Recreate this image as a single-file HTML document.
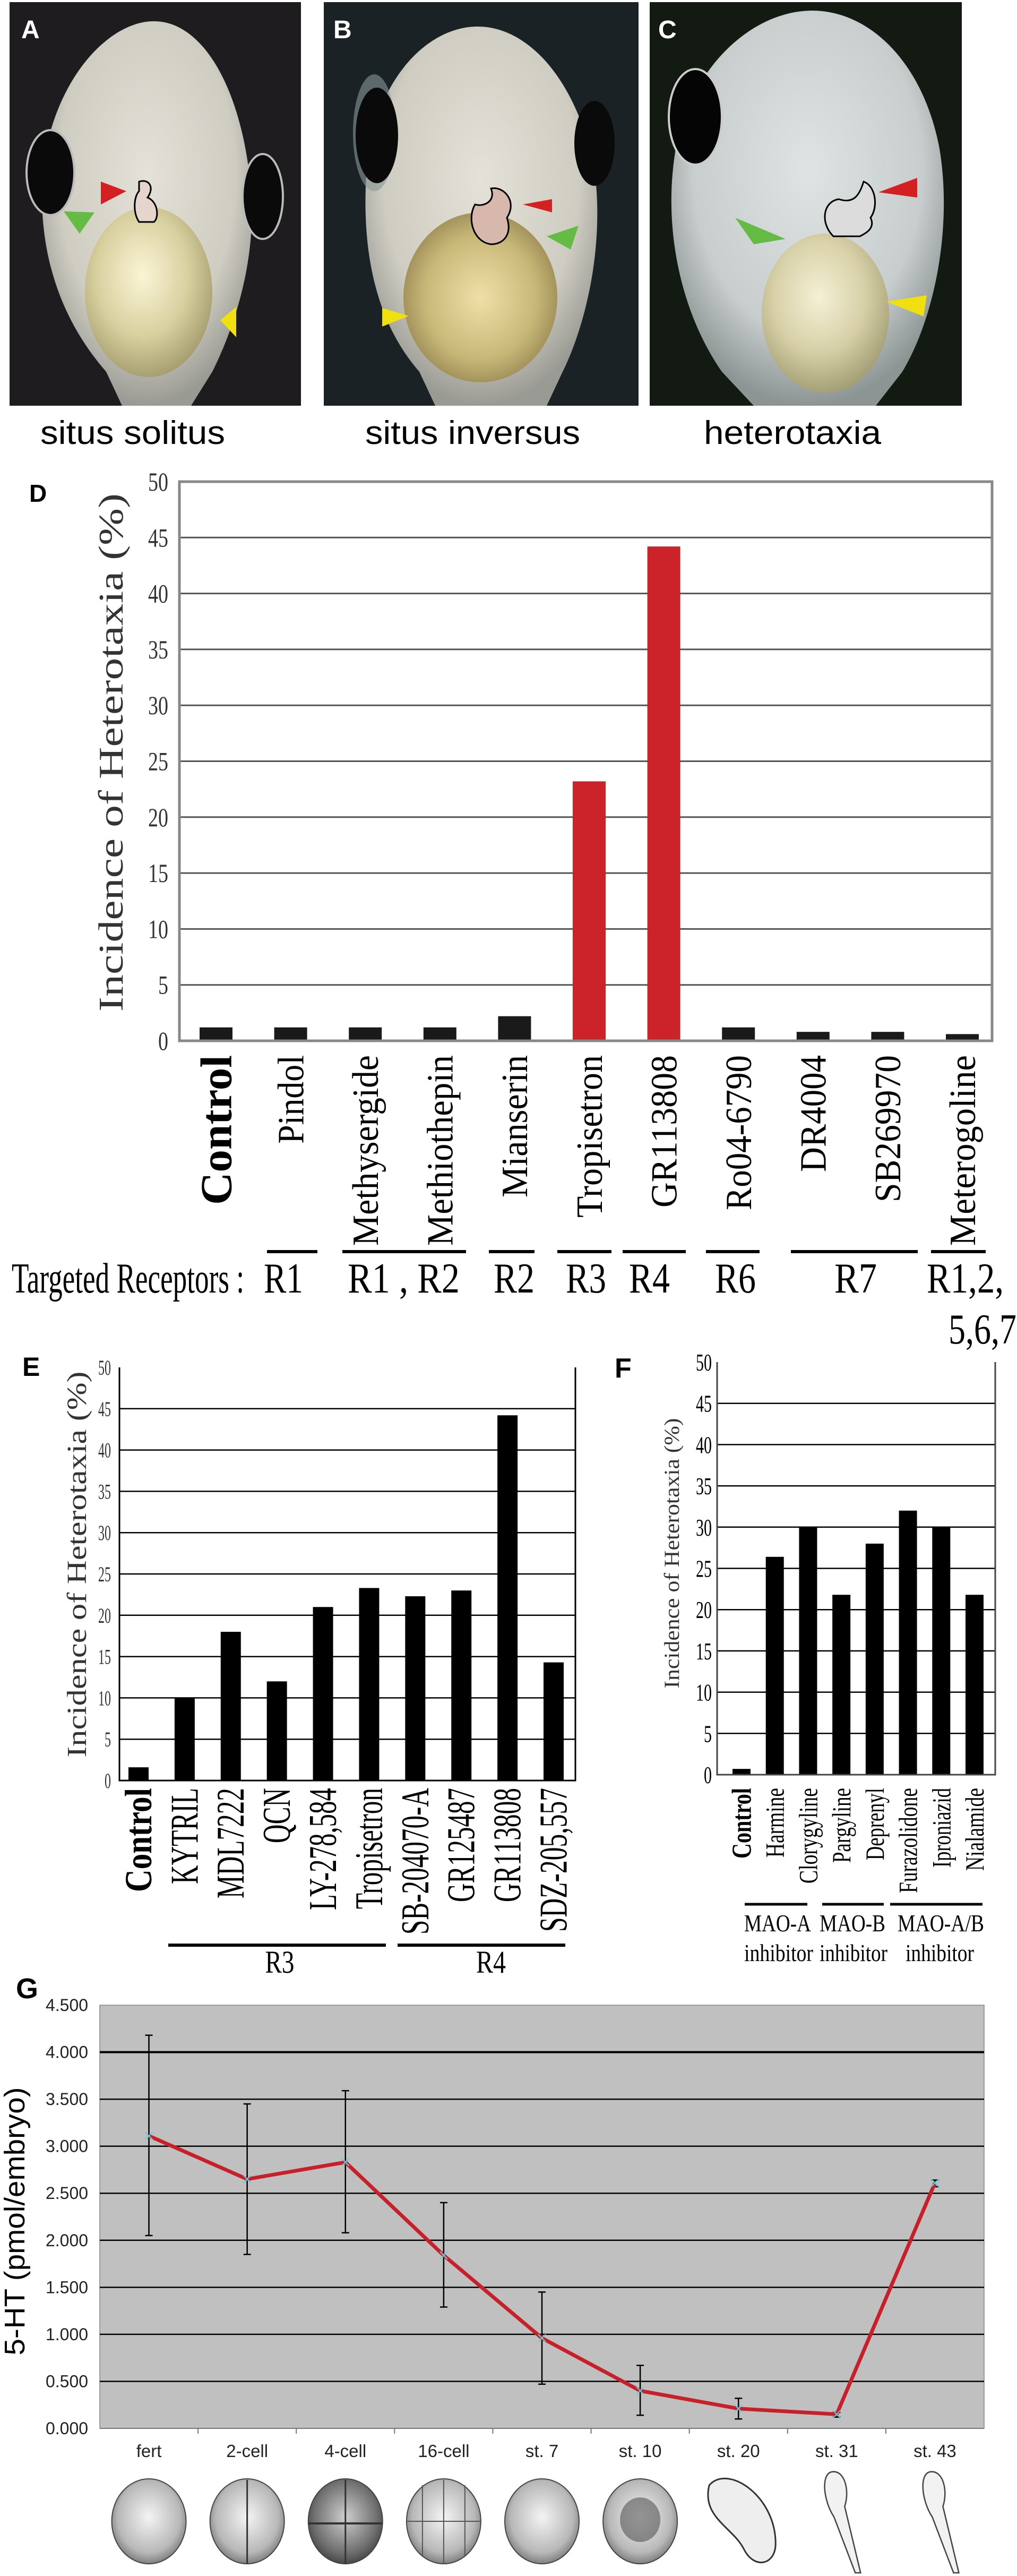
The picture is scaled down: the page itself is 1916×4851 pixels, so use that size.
<!DOCTYPE html>
<html><head><meta charset="utf-8">
<style>
html,body{margin:0;padding:0;background:#fff;}
svg{display:block;}
.serif{font-family:"Liberation Serif",serif;}
.sans{font-family:"Liberation Sans",sans-serif;}
</style></head>
<body>
<svg id="fig" width="1916" height="4851" viewBox="0 0 1916 4851" xmlns="http://www.w3.org/2000/svg">
<defs>
<radialGradient id="bodyA" cx="50%" cy="40%" r="60%"><stop offset="0" stop-color="#e4e2d8"/><stop offset="0.7" stop-color="#cfcdc2"/><stop offset="1" stop-color="#9a9a94"/></radialGradient>
<radialGradient id="bodyC" cx="50%" cy="40%" r="60%"><stop offset="0" stop-color="#dfe3e3"/><stop offset="0.7" stop-color="#c8cdcd"/><stop offset="1" stop-color="#8c9494"/></radialGradient>
<radialGradient id="yolk" cx="45%" cy="40%" r="60%"><stop offset="0" stop-color="#fbf5d6"/><stop offset="0.6" stop-color="#d9d0a0"/><stop offset="1" stop-color="#a8a070"/></radialGradient>
<radialGradient id="yolkB" cx="50%" cy="50%" r="60%"><stop offset="0" stop-color="#f0e0a8"/><stop offset="0.6" stop-color="#c8b878"/><stop offset="1" stop-color="#8a7a48"/></radialGradient>
<radialGradient id="emb" cx="50%" cy="45%" r="60%"><stop offset="0" stop-color="#f4f4f4"/><stop offset="0.7" stop-color="#b8b8b8"/><stop offset="1" stop-color="#6a6a6a"/></radialGradient>
<radialGradient id="embD" cx="50%" cy="45%" r="60%"><stop offset="0" stop-color="#cfcfcf"/><stop offset="0.7" stop-color="#707070"/><stop offset="1" stop-color="#3a3a3a"/></radialGradient>
</defs>

<!-- Photo panels -->
<g>
  <rect x="18" y="4" width="549" height="760" fill="#1e1c1e"/>
  <path d="M290 40 C380 40 450 160 470 330 C490 480 440 620 400 700 L360 764 L230 764 L200 700 C130 620 70 500 80 330 C95 160 200 40 290 40Z" fill="url(#bodyA)"/>
  <ellipse cx="95" cy="325" rx="45" ry="80" fill="#0a0a0a" stroke="#bbb" stroke-width="4"/>
  <ellipse cx="495" cy="370" rx="38" ry="80" fill="#0a0a0a" stroke="#bbb" stroke-width="4"/>
  <ellipse cx="280" cy="550" rx="120" ry="160" fill="url(#yolk)"/>
  <path d="M262 342 C280 336 292 352 278 372 C298 380 300 410 290 418 L262 418 C250 400 252 370 262 360 Z" fill="#e5d5cc" stroke="#000" stroke-width="3"/>
  <polygon points="190,342 238,360 190,385" fill="#d42020"/>
  <polygon points="120,398 178,400 150,440" fill="#66bb44"/>
  <polygon points="415,603 445,578 445,635" fill="#f0e010"/>
  <text x="40" y="72" class="sans" font-size="48" font-weight="bold" fill="#fff">A</text>
</g>
<g>
  <rect x="610" y="4" width="593" height="760" fill="#1a2226"/>
  <path d="M900 50 C1000 50 1090 160 1120 320 C1140 470 1100 620 1060 700 L1030 764 L820 764 L790 700 C720 620 680 500 690 330 C700 160 800 50 900 50Z" fill="url(#bodyA)"/>
  <ellipse cx="705" cy="250" rx="40" ry="110" fill="#8a9898" opacity="0.6"/>
  <ellipse cx="710" cy="255" rx="40" ry="90" fill="#0a0a0a"/>
  <ellipse cx="1120" cy="270" rx="38" ry="80" fill="#0a0a0a"/>
  <ellipse cx="905" cy="560" rx="145" ry="160" fill="url(#yolkB)"/>
  <path d="M925 355 C950 350 975 380 955 410 C965 440 950 460 925 460 C890 455 880 410 895 385 C910 390 935 380 925 355 Z" fill="#d8b8ac" stroke="#000" stroke-width="3"/>
  <polygon points="1040,375 985,385 1040,400" fill="#d42020"/>
  <polygon points="1090,425 1030,445 1075,470" fill="#66bb44"/>
  <polygon points="720,580 770,595 720,615" fill="#f0e010"/>
  <text x="628" y="72" class="sans" font-size="48" font-weight="bold" fill="#fff">B</text>
</g>
<g>
  <rect x="1224" y="4" width="588" height="760" fill="#121a12"/>
  <path d="M1530 20 C1640 20 1740 120 1770 280 C1795 430 1760 600 1700 700 L1650 764 L1420 764 L1360 700 C1290 600 1250 450 1270 300 C1290 140 1410 20 1530 20Z" fill="url(#bodyC)"/>
  <ellipse cx="1310" cy="220" rx="50" ry="90" fill="#050505" stroke="#ccc" stroke-width="4"/>
  <ellipse cx="1555" cy="590" rx="120" ry="150" fill="url(#yolk)" opacity="0.85"/>
  <path d="M1627 342 C1650 350 1655 390 1640 410 C1650 430 1630 440 1620 445 L1570 445 C1545 420 1550 380 1580 375 C1610 385 1620 365 1627 342 Z" fill="#dcdcdc" stroke="#000" stroke-width="3"/>
  <polygon points="1655,362 1728,335 1728,372" fill="#d42020"/>
  <polygon points="1385,410 1480,450 1420,460" fill="#66bb44"/>
  <polygon points="1670,568 1746,556 1740,596" fill="#f0e010"/>
  <text x="1240" y="72" class="sans" font-size="48" font-weight="bold" fill="#fff">C</text>
</g>
<text x="76" y="836" class="sans" font-size="62" textLength="348" lengthAdjust="spacingAndGlyphs">situs solitus</text>
<text x="688" y="836" class="sans" font-size="62" textLength="405" lengthAdjust="spacingAndGlyphs">situs inversus</text>
<text x="1326" y="836" class="sans" font-size="62" textLength="334" lengthAdjust="spacingAndGlyphs">heterotaxia</text>

<g id="chartD"></g>
<g id="chartE"></g>
<g id="chartF"></g>
<g id="chartG"></g>
</svg>

<script>
// ---------- Data ----------
const dCategories = ["Control","Pindol","Methysergide","Methiothepin","Mianserin","Tropisetron","GR113808","Ro04-6790","DR4004","SB269970","Meterogoline"];
const dValues = [1.2,1.2,1.2,1.2,2.2,23.2,44.2,1.2,0.8,0.8,0.6];
const dLabelLengths = [282,167,359,359,268,306,287,292,220,277,359];
const dTicks = ["0","5","10","15","20","25","30","35","40","45","50"];
const dRed = [false,false,false,false,false,true,true,false,false,false,false];

const eCategories = ["Control","KYTRIL","MDL7222","QCN","LY-278,584","Tropisetron","SB-204070-A","GR125487","GR113808","SDZ-205,557"];
const eValues = [1.6,10,18,12,21,23.3,22.3,23,44.2,14.3];
const eLabelLengths = [196,181,208,104,230,228,276,215,215,271];
const eTicks = ["0","5","10","15","20","25","30","35","40","45","50"];

const fCategories = ["Control","Harmine","Clorygyline","Pargyline","Deprenyl","Furazolidone","Iproniazid","Nialamide"];
const fValues = [0.7,26.4,30,21.8,28,32,30,21.8];
const fLabelLengths = [133,131,180,141,136,198,150,156];
const fTicks = ["0","5","10","15","20","25","30","35","40","45","50"];

const gCategories = ["fert","2-cell","4-cell","16-cell","st. 7","st. 10","st. 20","st. 31","st. 43"];
const gValues = [3.11,2.65,2.83,1.84,0.96,0.40,0.21,0.15,2.61];
const gErrHigh = [4.18,3.45,3.59,2.40,1.45,0.67,0.32,0.17,2.64];
const gErrLow = [2.05,1.85,2.08,1.29,0.47,0.14,0.10,0.12,2.57];
const gTicks = ["0.000","0.500","1.000","1.500","2.000","2.500","3.000","3.500","4.000","4.500"];

const NS = "http://www.w3.org/2000/svg";
function mk(parent, tag, attrs){ const e=document.createElementNS(NS,tag); for(const k in attrs) e.setAttribute(k,attrs[k]); parent.appendChild(e); return e; }
function txt(parent, x, y, s, cls, fs, extra){ const t=mk(parent,"text",Object.assign({x:x,y:y,"class":cls,"font-size":fs},extra||{})); t.textContent=s; return t; }

// ---------- Chart D ----------
(function(){
  const g=document.getElementById("chartD");
  const L=338,R=1869,T=907,B=1960,max=50;
  const y=v=>B-(v/max)*(B-T);
  const x=i=>407+i*((1813-407)/(dCategories.length-1));
  const lab=txt(g,55,945,"D","sans",46,{"font-weight":"bold"});
  
  
  dTicks.forEach((t,i)=>{
    const v=Number(t);
    if(v>0&&v<max){ const gl=mk(g,"line",{x1:L,x2:R,y1:y(v),y2:y(v),stroke:"#555","stroke-width":3});
      
       }
    const tl=txt(g,317,y(v)+17,t,"serif",50,{"text-anchor":"end",textLength:t.length*19,lengthAdjust:"spacingAndGlyphs",fill:"#333"});
    
    
  });
  dValues.forEach((v,i)=>{
    const b=mk(g,"rect",{x:x(i)-31,y:y(v),width:62,height:B-y(v),fill:dRed[i]?"#cc2229":"#1a1a1a"});
    
    
  });
  const fr=mk(g,"rect",{x:L,y:T,width:R-L,height:B-T,fill:"none",stroke:"#888","stroke-width":5});
  
  
  const yt=txt(g,0,0,"Incidence of Heterotaxia (%)","serif",66,{"text-anchor":"middle",transform:"translate(231,1417) rotate(-90)",textLength:976,lengthAdjust:"spacingAndGlyphs",fill:"#333"});
  
  
  dCategories.forEach((c,i)=>{
    const fs=i===0?84:70, top=1987, bx=x(i)+fs*0.34;
    const t=txt(g,bx,top,c,"serif",fs,{"text-anchor":"end",transform:"rotate(-90,"+bx+","+top+")",textLength:dLabelLengths[i],lengthAdjust:"spacingAndGlyphs","font-weight":i===0?"bold":"normal"});
    
    
  });
  // receptor row
  const rt=txt(g,22,2434,"Targeted Receptors :","serif",80,{textLength:438,lengthAdjust:"spacingAndGlyphs"});
  
  
  const recLines=[[503,598],[645,878],[921,1007],[1050,1152],[1173,1292],[1330,1431],[1490,1729],[1754,1857]];
  recLines.forEach(p=>{ const l=mk(g,"line",{x1:p[0],x2:p[1],y1:2357,y2:2357,stroke:"#000","stroke-width":6});
    
     });
  const recT=[["R1",497,74],["R1 , R2",655,211],["R2",930,77],["R3",1066,76],["R4",1185,77],["R6",1347,77],["R7",1572,80],["R1,2,",1746,145]];
  recT.forEach(r=>{ const t=txt(g,r[1],2434,r[0],"serif",80,{textLength:r[2],lengthAdjust:"spacingAndGlyphs"});
    
     });
  const t2=txt(g,1787,2530,"5,6,7","serif",80,{textLength:128,lengthAdjust:"spacingAndGlyphs"});
  
  
})();

// ---------- Chart E ----------
(function(){
  const g=document.getElementById("chartE");
  const L=225,R=1084,T=2575,B=3353,max=50;
  const y=v=>B-(v/max)*(B-T);
  const x=i=>261+i*((1043-261)/(eCategories.length-1));
  const lab=txt(g,42,2591,"E","sans",50,{"font-weight":"bold"});
  
  
  eTicks.forEach(t=>{
    const v=Number(t);
    if(v>0&&v<max){ const gl=mk(g,"line",{x1:L,x2:R,y1:y(v),y2:y(v),stroke:"#000","stroke-width":2.5});
      
       }
    const tl=txt(g,209,y(v)+14,t,"serif",40,{"text-anchor":"end",textLength:t.length*12,lengthAdjust:"spacingAndGlyphs",fill:"#333"});
    
    
  });
  eValues.forEach((v,i)=>{
    const b=mk(g,"rect",{x:x(i)-19,y:y(v),width:38,height:B-y(v),fill:"#000"});
    
    
  });
  const ax=mk(g,"path",{d:"M"+L+" "+T+" V"+B+" H"+R+" V"+T,fill:"none",stroke:"#000","stroke-width":3});
  
  
  const yt=txt(g,0,0,"Incidence of Heterotaxia (%)","serif",52,{"text-anchor":"middle",transform:"translate(162,2946) rotate(-90)",textLength:727,lengthAdjust:"spacingAndGlyphs",fill:"#333"});
  
  
  eCategories.forEach((c,i)=>{
    const fs=i===0?72:74, top=3367, bx=x(i)+fs*0.33;
    const t=txt(g,bx,top,c,"serif",fs,{"text-anchor":"end",transform:"rotate(-90,"+bx+","+top+")",textLength:eLabelLengths[i],lengthAdjust:"spacingAndGlyphs","font-weight":i===0?"bold":"normal"});
    
    
  });
  const l1=mk(g,"line",{x1:317,x2:727,y1:3663,y2:3663,stroke:"#000","stroke-width":6});
  
  
  const l2=mk(g,"line",{x1:749,x2:1065,y1:3663,y2:3663,stroke:"#000","stroke-width":6});
  
  
  const r3=txt(g,527,3715,"R3","serif",60,{"text-anchor":"middle",textLength:55,lengthAdjust:"spacingAndGlyphs"});
  
  
  const r4=txt(g,925,3715,"R4","serif",60,{"text-anchor":"middle",textLength:56,lengthAdjust:"spacingAndGlyphs"});
  
  
})();

// ---------- Chart F ----------
(function(){
  const g=document.getElementById("chartF");
  const L=1351,R=1875,T=2565,B=3342,max=50;
  const y=v=>B-(v/max)*(B-T);
  const x=i=>1397+i*((1836-1397)/(fCategories.length-1));
  const lab=txt(g,1158,2594,"F","sans",52,{"font-weight":"bold"});
  
  
  fTicks.forEach(t=>{
    const v=Number(t);
    if(v>0&&v<max){ const gl=mk(g,"line",{x1:L,x2:R,y1:y(v),y2:y(v),stroke:"#000","stroke-width":2.5});
      
       }
    const tl=txt(g,1341,y(v)+16,t,"serif",46,{"text-anchor":"end",textLength:t.length*15,lengthAdjust:"spacingAndGlyphs"});
    
    
  });
  fValues.forEach((v,i)=>{
    const b=mk(g,"rect",{x:x(i)-17,y:y(v),width:34,height:B-y(v),fill:"#000"});
    
    
  });
  const ax=mk(g,"path",{d:"M"+L+" "+T+" V"+B+" H"+R+" V"+T,fill:"none",stroke:"#444","stroke-width":3});
  
  
  const yt=txt(g,0,0,"Incidence of Heterotaxia (%)","serif",40,{"text-anchor":"middle",transform:"translate(1279,2925) rotate(-90)",textLength:509,lengthAdjust:"spacingAndGlyphs",fill:"#333"});
  
  
  fCategories.forEach((c,i)=>{
    const fs=i===0?52:50, top=3367, bx=x(i)+fs*0.34;
    const t=txt(g,bx,top,c,"serif",fs,{"text-anchor":"end",transform:"rotate(-90,"+bx+","+top+")",textLength:fLabelLengths[i],lengthAdjust:"spacingAndGlyphs","font-weight":i===0?"bold":"normal"});
    
    
  });
  const grp=[[1403,1521,"MAO-A",1402,126,"inhibitor",1402,130],[1549,1665,"MAO-B",1544,124,"inhibitor",1544,128],[1677,1851,"MAO-A/B",1691,163,"inhibitor",1706,129]];
  grp.forEach(p=>{
    const l=mk(g,"line",{x1:p[0],x2:p[1],y1:3586,y2:3586,stroke:"#000","stroke-width":5});
    
    
    const a=txt(g,p[3],3637,p[2],"serif",46,{textLength:p[4],lengthAdjust:"spacingAndGlyphs"});
    
    
    const b=txt(g,p[6],3693,p[5],"serif",46,{textLength:p[7],lengthAdjust:"spacingAndGlyphs"});
    
    
  });
})();

// ---------- Chart G ----------
(function(){
  const g=document.getElementById("chartG");
  const L=188,R=1854,T=3776,B=4573,max=4.5;
  const y=v=>B-(v/max)*(B-T);
  const bw=(R-L)/gCategories.length;
  const x=i=>L+(i+0.5)*bw;
  const lab=txt(g,30,3763,"G","sans",54,{"font-weight":"bold"});
  
  
  const bg=mk(g,"rect",{x:L,y:T,width:R-L,height:B-T,fill:"#c0c0c0",stroke:"#888","stroke-width":1.5});
  
  
  gTicks.forEach(t=>{
    const v=Number(t);
    if(v>0&&v<max){ const gl=mk(g,"line",{x1:L,x2:R,y1:y(v),y2:y(v),stroke:"#000","stroke-width":Math.abs(v-4)<0.01?4:2.5});
      
       }
    const tl=txt(g,166,y(v)+11,t,"sans",32,{"text-anchor":"end",textLength:80,lengthAdjust:"spacingAndGlyphs",fill:"#222"});
    
    
  });
  const xa=mk(g,"line",{x1:L,x2:R,y1:B,y2:B,stroke:"#777","stroke-width":2});
  
  
  for(let i=1;i<gCategories.length;i++){
    const tk=mk(g,"line",{x1:L+i*bw,x2:L+i*bw,y1:B,y2:B+10,stroke:"#777","stroke-width":2});
    
    
  }
  const yt=txt(g,0,0,"5-HT (pmol/embryo)","sans",54,{"text-anchor":"middle",transform:"translate(46,4183) rotate(-90)",textLength:505,lengthAdjust:"spacingAndGlyphs"});
  
  
  gValues.forEach((v,i)=>{
    const cx=x(i);
    const eb=mk(g,"path",{d:"M"+cx+" "+y(gErrHigh[i])+" V"+y(gErrLow[i])+" M"+(cx-7)+" "+y(gErrHigh[i])+" H"+(cx+7)+" M"+(cx-7)+" "+y(gErrLow[i])+" H"+(cx+7),stroke:"#000","stroke-width":2.5,fill:"none"});
    
    
  });
  const pts=gValues.map((v,i)=>x(i)+","+y(v)).join(" ");
  const ln=mk(g,"polyline",{points:pts,fill:"none",stroke:"#c8202a","stroke-width":7,"stroke-linejoin":"round"});
  
  
  gValues.forEach((v,i)=>{
    const cx=x(i),cy=y(v);
    const m=mk(g,"path",{d:"M"+(cx-7)+" "+(cy-7)+" L"+(cx+7)+" "+(cy+7)+" M"+(cx+7)+" "+(cy-7)+" L"+(cx-7)+" "+(cy+7),stroke:"#5ad0e0","stroke-width":2});
    
    
  });
  gCategories.forEach((c,i)=>{
    const t=txt(g,x(i),4627,c,"sans",33,{"text-anchor":"middle",fill:"#222"});
    
    
  });
  // embryo drawings
  gCategories.forEach((c,i)=>{
    const cx=x(i);
    const em=mk(g,"g",{});
    
    
    if(i<6){
      const fill=(i===2)?"url(#embD)":"url(#emb)";
      mk(em,"ellipse",{cx:cx,cy:4748,rx:70,ry:80,fill:fill,stroke:"#444","stroke-width":2});
      if(i===1||i===2){ mk(em,"line",{x1:cx,x2:cx,y1:4670,y2:4828,stroke:"#333","stroke-width":3}); }
      if(i===2){ mk(em,"line",{x1:cx-70,x2:cx+70,y1:4752,y2:4752,stroke:"#333","stroke-width":4}); }
      if(i===3){ mk(em,"path",{d:"M"+(cx-70)+" 4748 H"+(cx+70)+" M"+cx+" 4670 V4828 M"+(cx-40)+" 4680 V4815 M"+(cx+40)+" 4680 V4815",stroke:"#555","stroke-width":2,fill:"none"}); }
      if(i===5){ mk(em,"ellipse",{cx:cx,cy:4745,rx:38,ry:42,fill:"#555",opacity:0.6}); }
    } else if(i===6){
      mk(em,"path",{d:"M"+(cx-55)+" 4680 C"+(cx-20)+" 4640 "+(cx+70)+" 4700 "+(cx+70)+" 4790 C"+(cx+70)+" 4830 "+(cx+30)+" 4840 "+(cx+10)+" 4800 C"+(cx-10)+" 4760 "+(cx-70)+" 4740 "+(cx-55)+" 4680Z",fill:"#eee",stroke:"#333","stroke-width":3});
    } else {
      mk(em,"path",{d:"M"+(cx-10)+" 4655 C"+(cx+15)+" 4650 "+(cx+25)+" 4690 "+(cx+15)+" 4720 L"+(cx+45)+" 4845 L"+(cx+35)+" 4845 L"+(cx-5)+" 4740 C"+(cx-25)+" 4710 "+(cx-30)+" 4660 "+(cx-10)+" 4655Z",fill:"#f2f2f2",stroke:"#444","stroke-width":2.5});
    }
  });
})();
</script>
</body></html>
